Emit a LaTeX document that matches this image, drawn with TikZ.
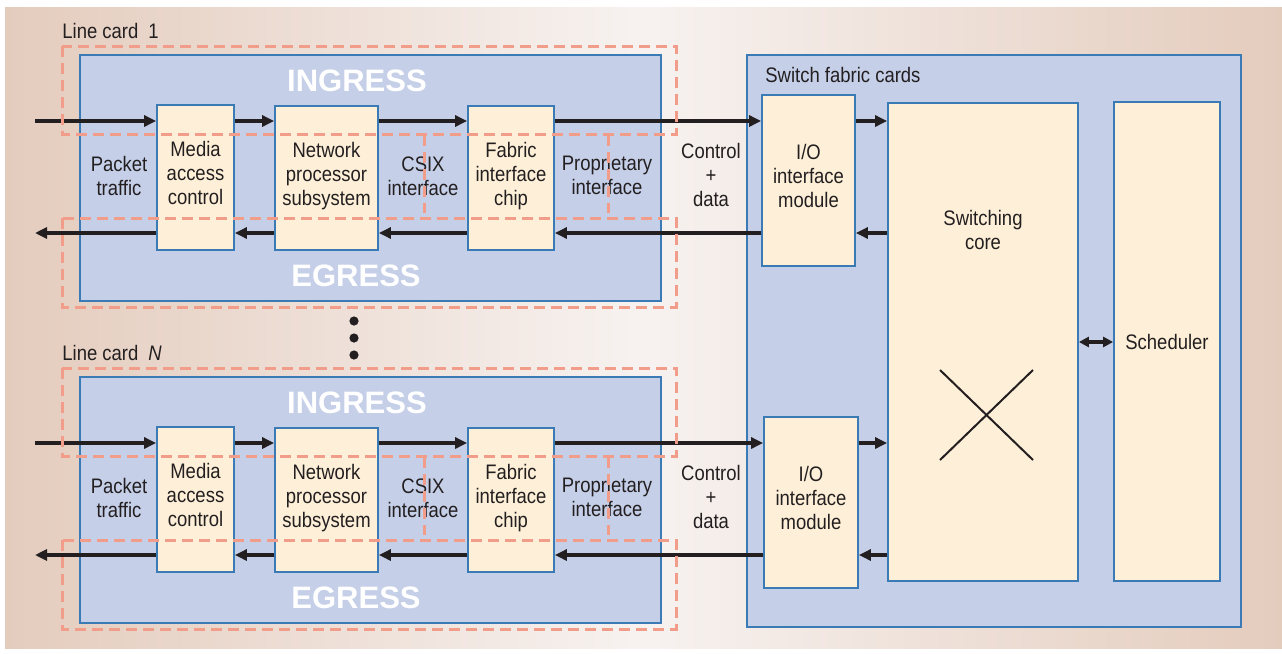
\documentclass[tikz,border=0pt]{standalone}
\usepackage{fontspec}
\setmainfont{Liberation Sans}[FakeStretch=0.88]
\newfontfamily\bannerfont{Liberation Sans}
\usetikzlibrary{arrows.meta}

\definecolor{cardblue}{HTML}{C5CFE8}
\definecolor{edgeblue}{HTML}{3B7BB5}
\definecolor{chipbeige}{HTML}{FEF0D8}
\definecolor{dashpink}{HTML}{F29C8A}
\definecolor{bgtan}{HTML}{E4CCBD}
\definecolor{bglight}{HTML}{F7F2F0}
\definecolor{inkdark}{HTML}{231F20}

\tikzset{
  card/.style={draw=edgeblue, fill=cardblue, line width=0.9pt, inner sep=0pt},
  chip/.style={draw=edgeblue, fill=chipbeige, line width=0.9pt, inner sep=0pt, align=center, text=inkdark, text depth=4.5pt},
  lbl/.style={align=center, inner sep=0pt, text=inkdark},
  banner/.style={font=\bannerfont\bfseries\fontsize{15.5}{18}\selectfont, text=white, inner sep=0pt},
  flow/.style={-{Triangle[length=6pt,width=5.5pt]}, line width=1.7pt, draw=inkdark},
  zone/.style={draw=dashpink, line width=1.5pt, dash pattern=on 5.5pt off 3pt},
}

\begin{document}
\begin{tikzpicture}[x=0.5pt, y=-0.5pt, font=\fontsize{10.5}{12}\selectfont]
  \useasboundingbox (0,0) rectangle (1282,654);
  % background
  \shade[left color=bgtan, right color=bgtan, middle color=bglight] (5,7) rectangle (1282,648);

  % switch fabric cards
  \node[card, minimum width=247pt, minimum height=286pt] (fabric) at (994,341) {};
  \node[lbl, anchor=west] (fabriclbl) at (765,75) {Switch fabric cards};
  \node[chip, minimum width=46.5pt, minimum height=85.5pt] (io1) at (808.5,180.5) {I/O\\interface\\module};
  \node[chip, minimum width=47pt, minimum height=85.5pt] (io2) at (811,502.5) {I/O\\interface\\module};
  \node[chip, minimum width=95pt, minimum height=239pt,
        label={[lbl, yshift=56pt]center:Switching\\core}] (core) at (983,342) {};
  \node[chip, minimum width=53pt, minimum height=239.5pt, text depth=0pt] (sched) at (1167,341.5) {Scheduler};
  % crossbar symbol
  \draw[inkdark, line width=1pt] (940,370) -- (1033,460) (1033,370) -- (940,460);

  \draw[{Triangle[length=5pt,width=5pt]}-{Triangle[length=5pt,width=5pt]}, line width=1.6pt, inkdark]
    (core.east) -- (core.east -| sched.west);
  \foreach \k/\ya/\yb in {1/121/233, 2/443/555} {
    \draw[flow] (io\k.east |- 0,\ya) -- (core.west |- 0,\ya);
    \draw[flow] (core.west |- 0,\yb) -- (io\k.east |- 0,\yb);
  }

  % line cards
  \foreach \i/\dy/\num in {1/0/1, 2/322/\textit{N}} {
    \node[card, minimum width=290.5pt, minimum height=123pt] (card\i) at (370.5,{178+\dy}) {};
    \node[lbl, anchor=west] (cardlbl\i) at (62,{31+\dy}) {Line card\hspace{5pt}\num};
    \node[banner] (ingress\i) at (357,{81+\dy}) {INGRESS};
    \node[banner] (egress\i) at (356,{276+\dy}) {EGRESS};

    \node[chip, minimum width=38.5pt, minimum height=72.5pt] (mac\i) at (195.5,{177.5+\dy}) {Media\\access\\control};
    \node[chip, minimum width=51.5pt, minimum height=72pt] (np\i) at (326.5,{178+\dy}) {Network\\processor\\subsystem};
    \node[chip, minimum width=43pt, minimum height=72pt] (fic\i) at (511,{178+\dy}) {Fabric\\interface\\chip};

    \node[lbl] (pkt\i) at (119,{175.5+\dy}) {Packet\\traffic};
    \node[lbl] (csix\i) at (423,{176+\dy}) {CSIX\\interface};
    \node[lbl] (prop\i) at (607,{175+\dy}) {Proprietary\\interface};
    \node[lbl] (ctrl\i) at (711,{175+\dy}) {Control\\+\\data};

    % ingress path
    \coordinate (in\i) at (35,{121+\dy});
    \draw[flow] (in\i) -- (in\i -| mac\i.west);
    \draw[flow] (mac\i.east |- in\i) -- (np\i.west |- in\i);
    \draw[flow] (np\i.east |- in\i) -- (fic\i.west |- in\i);
    \draw[flow] (fic\i.east |- in\i) -- (io\i.west |- in\i);
    % egress path
    \coordinate (out\i) at (35,{233+\dy});
    \draw[flow] (io\i.west |- out\i) -- (fic\i.east |- out\i);
    \draw[flow] (fic\i.west |- out\i) -- (np\i.east |- out\i);
    \draw[flow] (np\i.west |- out\i) -- (mac\i.east |- out\i);
    \draw[flow] (mac\i.west |- out\i) -- (out\i);

    % ingress / egress zones
    \draw[zone] (62,{46+\dy}) rectangle (676,{134+\dy});
    \draw[zone] (62,{218+\dy}) rectangle (676,{307+\dy});
    \draw[zone] (424,{135+\dy}) -- (424,{213+\dy});
    \draw[zone] (608,{135+\dy}) -- (608,{213+\dy});
  }

  % more line cards
  \foreach \y in {321,338,355} \fill[inkdark] (354,\y) circle (2.3pt);
\end{tikzpicture}
\end{document}
